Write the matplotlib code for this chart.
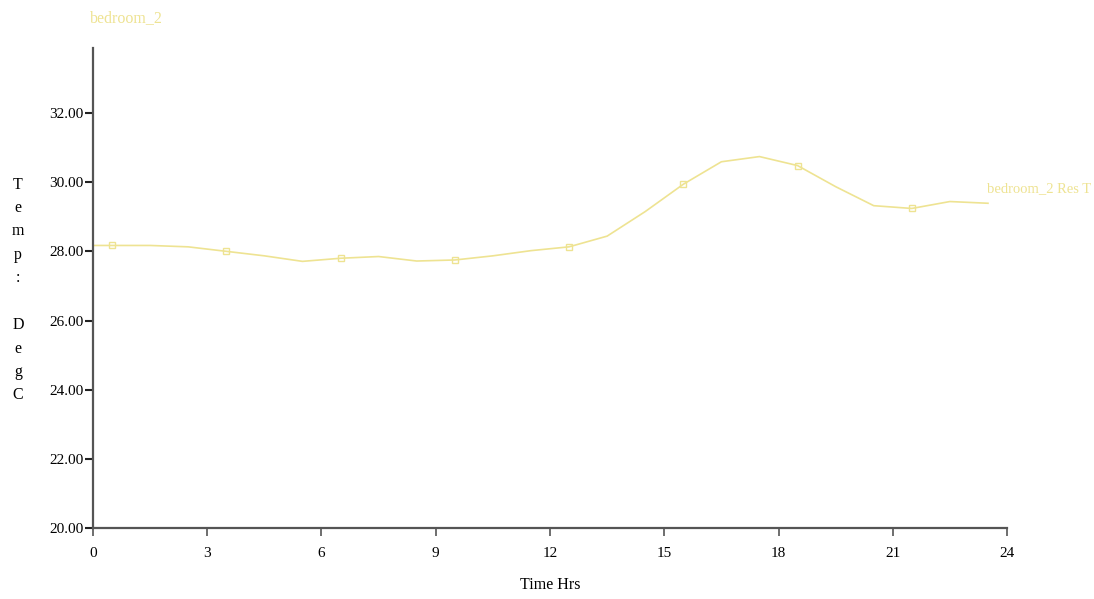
import matplotlib.pyplot as plt

# bedroom_2 resultant temperature over a day
hours = [0.0, 0.5, 1.5, 2.5, 3.5, 4.5, 5.5, 6.5, 7.5, 8.5, 9.5, 10.5,
         11.5, 12.5, 13.5, 14.5, 15.5, 16.5, 17.5, 18.5, 19.5, 20.5,
         21.5, 22.5, 23.5]
res_temp = [28.17, 28.17, 28.17, 28.13, 28.00, 27.87, 27.71, 27.80,
            27.85, 27.72, 27.75, 27.87, 28.02, 28.13, 28.44, 29.15,
            29.94, 30.59, 30.74, 30.48, 29.87, 29.32, 29.24, 29.44, 29.39]

x_ticks = [0, 3, 6, 9, 12, 15, 18, 21, 24]
y_ticks = [20, 22, 24, 26, 28, 30, 32]

line_color = '#eee392'
axis_color = '#555555'
font = 'Liberation Serif'

fig = plt.figure(figsize=(10.94, 5.99), dpi=100)
ax = fig.add_axes([0.085, 0.1185, 0.8355, 0.8014])

ax.plot(hours, res_temp, color=line_color, linewidth=1.2,
        marker='s', markersize=4, markerfacecolor='none',
        markeredgecolor=line_color, markeredgewidth=1.0,
        markevery=slice(1, None, 3))

ax.set_xlim(0, 24)
ax.set_ylim(20, 33.88)
ax.set_xticks(x_ticks)
ax.set_xticklabels([str(t) for t in x_ticks], fontfamily=font, fontsize=11)
ax.set_yticks(y_ticks)
ax.set_yticklabels([f'{t:.2f}' for t in y_ticks], fontfamily=font, fontsize=11)

for side in ['top', 'right']:
    ax.spines[side].set_visible(False)
for side in ['left', 'bottom']:
    ax.spines[side].set_color(axis_color)
    ax.spines[side].set_linewidth(1.6)

ax.tick_params(axis='x', direction='out', length=6, width=1.2,
               color=axis_color, pad=8)
ax.tick_params(axis='y', direction='out', length=6, width=1.5,
               color='#222222', pad=1)

ax.set_xlabel('Time Hrs', fontfamily=font, fontsize=11.5, labelpad=12)

# stacked vertical axis label
fig.text(18 / 1094, 1 - 290 / 599, 'T\ne\nm\np\n:\n\nD\ne\ng\nC',
         fontfamily=font, fontsize=11.5, ha='center', va='center',
         linespacing=1.62)

# title and series label
fig.text(90 / 1094, 1 - 18 / 599, 'bedroom_2', fontfamily=font,
         fontsize=11.5, color=line_color, ha='left', va='center')
ax.text(23.48, 29.82, 'bedroom_2 Res T', fontfamily=font, fontsize=10.5,
        color=line_color, ha='left', va='center', clip_on=False)

fig.savefig('out.png', dpi=100)
